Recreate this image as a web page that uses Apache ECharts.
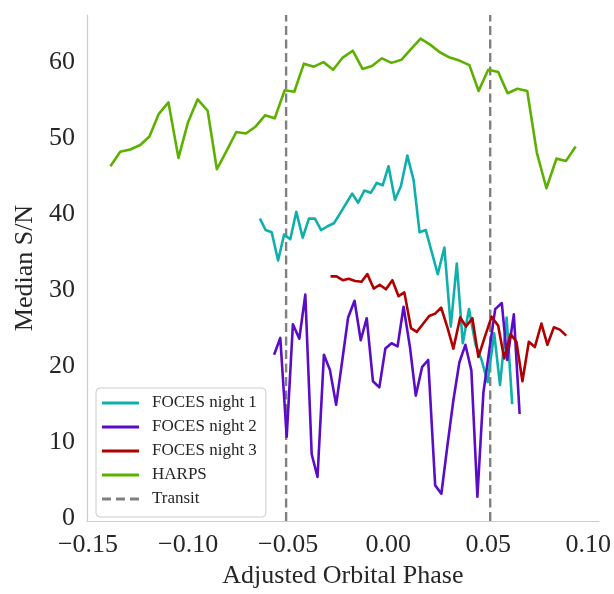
<!DOCTYPE html>
<html>
<head>
<meta charset="utf-8">
<script src="https://cdn.jsdelivr.net/npm/echarts@6/dist/echarts.min.js"></script>
<style>
html,body{margin:0;padding:0;background:#fff;}
#chart{width:614px;height:594px;}
</style>
</head>
<body>
<div id="chart"></div>
<script>
// ---- Data ----
var seriesNames = ['FOCES night 1', 'FOCES night 2', 'FOCES night 3', 'HARPS'];

var night1Phase = [-0.0641,-0.0612,-0.0582,-0.0550,-0.0520,-0.0489,-0.0459,-0.0427,-0.0396,-0.0366,-0.0335,-0.0303,-0.0271,-0.0240,-0.0210,-0.0180,-0.0150,-0.0119,-0.0087,-0.0057,-0.0027,0.0002,0.0034,0.0064,0.0096,0.0127,0.0157,0.0188,0.0218,0.0248,0.0281,0.0313,0.0343,0.0373,0.0404,0.0436,0.0467,0.0497,0.0530,0.0559,0.0592,0.0620];
var night1SN    = [39.4,37.9,37.6,33.9,37.3,36.7,40.3,36.9,39.4,39.4,37.9,38.4,38.8,40.1,41.4,42.7,41.5,43.1,42.8,44.1,43.8,46.3,41.9,43.7,47.7,44.5,37.6,37.9,35.0,32.1,35.6,25.2,33.5,23.0,27.5,22.9,20.8,17.9,24.3,17.5,26.4,15.0];

var night2Phase = [-0.0570,-0.0539,-0.0507,-0.0476,-0.0444,-0.0414,-0.0382,-0.0353,-0.0321,-0.0291,-0.0260,-0.0230,-0.0200,-0.0168,-0.0137,-0.0107,-0.0076,-0.0044,-0.0014,0.0017,0.0047,0.0077,0.0109,0.0138,0.0170,0.0200,0.0235,0.0266,0.0296,0.0326,0.0356,0.0386,0.0416,0.0446,0.0476,0.0505,0.0535,0.0568,0.0595,0.0628,0.0657];
var night2SN    = [21.5,23.7,10.7,25.5,23.6,29.4,8.4,5.4,21.5,19.5,14.9,20.6,26.4,28.6,23.4,26.3,18.0,17.2,22.3,23.0,22.6,27.8,22.5,16.1,19.9,20.8,4.3,3.2,9.5,15.5,20.5,22.8,19.4,2.8,16.5,22.0,27.5,28.3,20.8,26.8,13.7];

var night3Phase = [-0.0288,-0.0258,-0.0227,-0.0197,-0.0165,-0.0133,-0.0104,-0.0072,-0.0042,-0.0011,0.0021,0.0052,0.0081,0.0114,0.0143,0.0173,0.0205,0.0235,0.0265,0.0296,0.0326,0.0360,0.0389,0.0421,0.0451,0.0484,0.0517,0.0550,0.0580,0.0612,0.0641,0.0671,0.0703,0.0733,0.0766,0.0796,0.0828,0.0858,0.0890];
var night3SN    = [31.8,31.8,31.3,31.5,31.2,31.1,32.1,30.2,30.7,30.1,31.3,29.2,29.7,25.0,24.5,25.5,26.6,26.9,27.7,25.1,22.3,26.4,25.2,26.3,21.2,23.9,26.5,25.3,21.0,24.2,23.2,18.0,23.2,22.5,25.6,22.8,25.1,24.8,24.0];

var harpsPhase = [-0.1388,-0.1339,-0.1289,-0.1239,-0.1193,-0.1146,-0.1098,-0.1048,-0.1000,-0.0952,-0.0902,-0.0856,-0.0808,-0.0759,-0.0711,-0.0663,-0.0615,-0.0567,-0.0517,-0.0469,-0.0421,-0.0371,-0.0323,-0.0275,-0.0227,-0.0177,-0.0128,-0.0081,-0.0031,0.0017,0.0066,0.0114,0.0162,0.0210,0.0258,0.0308,0.0356,0.0406,0.0452,0.0500,0.0550,0.0597,0.0646,0.0695,0.0743,0.0791,0.0841,0.0889,0.0937];
var harpsSN    = [46.3,48.2,48.5,49.1,50.2,53.2,54.7,47.4,52.1,55.1,53.6,45.9,48.3,50.8,50.6,51.5,53.0,52.6,56.3,56.1,59.8,59.4,60.0,59.0,60.6,61.5,59.1,59.5,60.5,59.9,60.3,61.7,63.1,62.3,61.3,60.6,60.2,59.6,56.2,59.0,58.7,55.9,56.5,56.2,48.1,43.4,47.3,47.0,48.9];

var transitPhases = [-0.051, 0.051];
var transitName = 'Transit';

var xTickLabels = ['\u22120.15','\u22120.10','\u22120.05','0.00','0.05','0.10'];
var yTickLabels = ['0','10','20','30','40','50','60'];

// ---- Styles ----
var colors = ['#0fb0ac', '#5a0cc6', '#b00000', '#5cb000'];
var transitColor = '#808080';
var fontFamily = '"Liberation Serif", "DejaVu Serif", serif';
var textColor = '#262626';
var xMin = -0.1505, xMax = 0.1053, yMin = -0.4, yMax = 66.2;

function pairs(xs, ys) { return xs.map(function (x, i) { return [x, ys[i]]; }); }

var phases = [night1Phase, night2Phase, night3Phase, harpsPhase];
var values = [night1SN, night2SN, night3SN, harpsSN];

var series = seriesNames.map(function (name, i) {
  return {
    name: name, type: 'line', data: pairs(phases[i], values[i]),
    symbol: 'none', color: colors[i],
    lineStyle: { width: 2.6, color: colors[i], join: 'round' },
    z: 3 + i
  };
});
transitPhases.forEach(function (p) {
  series.push({
    name: transitName, type: 'line', data: [[p, yMin], [p, yMax]],
    symbol: 'none', color: transitColor,
    lineStyle: { width: 2.4, color: transitColor, type: [9, 4.5] },
    z: 2
  });
});

function xLabel(v) {
  var k = v / 0.05;
  if (Math.abs(k - Math.round(k)) > 1e-6) return '';
  var idx = Math.round(k) + 3;
  return xTickLabels[idx] !== undefined ? xTickLabels[idx] : '';
}
function yLabel(v) {
  var k = v / 10;
  if (Math.abs(k - Math.round(k)) > 1e-6) return '';
  var idx = Math.round(k);
  return yTickLabels[idx] !== undefined ? yTickLabels[idx] : '';
}

var solidIcon = 'path://M0,0h37v3h-37z';
var dashIcon = 'path://M0,0h9v3h-9z M14,0h9v3h-9z M28,0h9v3h-9z';

var chart = echarts.init(document.getElementById('chart'), null, { renderer: 'canvas' });
chart.setOption({
  animation: false,
  backgroundColor: '#ffffff',
  textStyle: { fontFamily: fontFamily, color: textColor },
  grid: { left: 87, right: 13, top: 15, bottom: 68.5, containLabel: false },
  xAxis: {
    type: 'value', min: xMin, max: xMax, splitNumber: 5,
    name: 'Adjusted Orbital Phase', nameLocation: 'middle', nameGap: 40,
    nameTextStyle: { fontFamily: fontFamily, fontSize: 26, color: textColor },
    axisLine: { show: true, onZero: false, lineStyle: { color: '#cccccc', width: 1.2 } },
    axisTick: { show: false },
    splitLine: { show: false },
    axisLabel: { formatter: xLabel, fontFamily: fontFamily, fontSize: 26, color: textColor, margin: 11, showMinLabel: true, showMaxLabel: true, hideOverlap: false }
  },
  yAxis: {
    type: 'value', min: yMin, max: yMax, splitNumber: 7,
    name: 'Median S/N', nameLocation: 'middle', nameGap: 42, nameRotate: 90,
    nameTextStyle: { fontFamily: fontFamily, fontSize: 26, color: textColor },
    axisLine: { show: true, onZero: false, lineStyle: { color: '#cccccc', width: 1.2 } },
    axisTick: { show: false },
    splitLine: { show: false },
    axisLabel: { formatter: yLabel, fontFamily: fontFamily, fontSize: 26, color: textColor, margin: 12 }
  },
  legend: {
    orient: 'vertical', left: 96, top: 388,
    padding: [5, 9, 8, 6], itemGap: 4,
    itemWidth: 37, itemHeight: 3,
    backgroundColor: 'rgba(255,255,255,0.8)',
    borderColor: '#cccccc', borderWidth: 1, borderRadius: 4,
    textStyle: { fontFamily: fontFamily, fontSize: 17, color: textColor, lineHeight: 20, padding: [0, 0, 0, 8] },
    data: [
      { name: seriesNames[0], icon: solidIcon },
      { name: seriesNames[1], icon: solidIcon },
      { name: seriesNames[2], icon: solidIcon },
      { name: seriesNames[3], icon: solidIcon },
      { name: transitName, icon: dashIcon }
    ]
  },
  series: series
});
</script>
</body>
</html>
